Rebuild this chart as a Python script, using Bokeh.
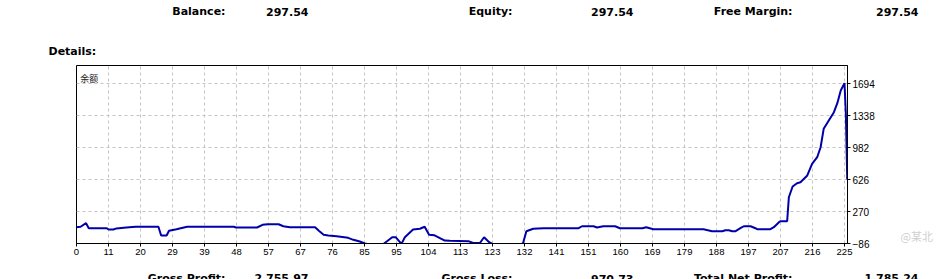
from bokeh.plotting import figure
from bokeh.models import Range1d, FixedTicker
from bokeh.layouts import column, row
from bokeh.core.properties import value
from bokeh.embed import file_html
from bokeh.resources import INLINE

# ---------------- data ----------------
trade = [0, 1.2, 2.8, 3.6, 8.8, 9.4, 10.8, 11.7, 14.6, 17.3, 24.0, 24.8, 26.4, 27.1,
         29.3, 32.4, 46.1, 46.7, 52.9, 54.5, 56.0, 59.2, 60.6, 62.5, 69.9, 71.0,
         72.4, 73.8, 76.2, 79.6, 81.1, 83.0, 84.5, 85.5, 89.9, 90.3, 92.5, 93.5,
         95.2, 96.2, 98.6, 100.6, 102.0, 103.3, 104.9, 107.9, 109.4, 114.8, 116.2,
         118.2, 119.4, 120.9, 122.1, 130.1, 130.8, 131.8, 133.8, 136.8, 147.1,
         148.1, 151.5, 152.5, 154.3, 157.8, 159.2, 165.8, 166.9, 169.0, 183.7,
         186.2, 189.2, 190.1, 191.1, 192.1, 193.1, 194.5, 195.5, 197.5, 198.9,
         199.4, 203.3, 204.3, 205.8, 206.3, 208.2, 208.7, 209.8, 211.1, 212.1,
         214.1, 215.5, 217.0, 218.0, 218.9, 220.4, 221.9, 222.9, 223.9, 225.0,
         225.4, 225.8]
balance = [95, 100, 140, 84, 84, 70, 70, 82, 92, 100, 100, 3, 3, 55,
           72, 100, 100, 92, 92, 122, 128, 128, 106, 95, 95, 55,
           12, 3, -5, -23, -45, -64, -86, -95, -95, -80, -16, -16,
           -90, -16, 70, 78, 100, 11, 5, -53, -55, -60, -80,
           -80, -16, -72, -95, -95, -86, 51, 78, 84, 84,
           106, 106, 92, 106, 106, 84, 84, 95, 73, 73,
           51, 51, 62, 62, 51, 51, 84, 106, 106, 84,
           73, 73, 95, 151, 162, 162, 429, 548, 585, 596,
           671, 801, 874, 985, 1190, 1282, 1375, 1475, 1616, 1698,
           1357, 626]

x_tick_labels = ["0", "11", "20", "29", "39", "48", "57", "67", "76", "85", "95",
                 "104", "113", "123", "132", "141", "151", "160", "169", "179",
                 "188", "197", "207", "216", "225"]
y_ticks = [-86, 270, 626, 982, 1338, 1694]

top_labels = ["Balance:", "Equity:", "Free Margin:"]
top_values = ["297.54", "297.54", "297.54"]
bottom_labels = ["Gross Profit:", "Gross Loss:", "Total Net Profit:"]
bottom_values = ["2 755.97", "970.73", "1 785.24"]
details_title = "Details:"
series_name = "余额"
watermark = "@某北"

# ---------------- layout (canvas pixels) ----------------
W, H = 952, 279
L, R, T, B = 76, 847, 65, 243
HEAD_H = T - 1          # header strip 0..64
MAIN_W = 890
FOOT_TOP = 265
MAIN_H = FOOT_TOP - HEAD_H
GRID_PX = 32
X_STEP = 225 / 24
Y_STEP = 356
x_end = (R - L) / GRID_PX * X_STEP
y_start = -86
y_end = y_start + (B - T) / GRID_PX * Y_STEP

label_right = [225, 512, 792]
value_right = [308, 633, 918]

bold = dict(text_font=value("DejaVu Sans"), text_font_style="bold",
            text_font_size=value("11px"), text_color="black",
            text_baseline="alphabetic")


def strip(w, h, x0, y0):
    f = figure(width=w, height=h, output_backend="svg", toolbar_location=None,
               x_range=Range1d(x0, x0 + w), y_range=Range1d(y0 + h, y0),
               x_axis_type=None, y_axis_type=None, min_border=0)
    f.min_border_left = f.min_border_right = f.min_border_top = f.min_border_bottom = 0
    f.outline_line_color = None
    f.background_fill_color = "white"
    f.border_fill_color = "white"
    f.xgrid.visible = False
    f.ygrid.visible = False
    return f


# header
head = strip(W, HEAD_H, 0, 0)
head.text(x=label_right, y=[11] * 3, text=top_labels, text_align="right", **bold)
head.text(x=value_right, y=[11] * 3, text=top_values, text_align="right", **bold)
head.text(x=[48], y=[51], text=[details_title], text_align="left", **bold)

# main chart
p = figure(width=MAIN_W, height=MAIN_H, output_backend="svg", toolbar_location=None,
           x_range=Range1d(0, x_end), y_range=Range1d(y_start, y_end),
           y_axis_location="right", min_border_left=L, min_border_right=MAIN_W - R,
           min_border_top=T - HEAD_H, min_border_bottom=FOOT_TOP - B)
p.background_fill_color = "white"
p.border_fill_color = "white"
p.outline_line_color = "black"
p.outline_line_width = 1

xt = [i * X_STEP for i in range(len(x_tick_labels))]
p.xaxis.ticker = FixedTicker(ticks=xt)
p.xgrid.ticker = FixedTicker(ticks=xt)
p.xaxis.major_label_overrides = {t: s for t, s in zip(xt, x_tick_labels)}
p.yaxis.ticker = FixedTicker(ticks=y_ticks)
p.ygrid.ticker = FixedTicker(ticks=y_ticks)

for ax in (p.xaxis[0], p.yaxis[0]):
    ax.axis_line_color = "black"
    ax.major_tick_line_color = "black"
    ax.major_tick_in = 0
    ax.major_tick_out = 3
    ax.minor_tick_line_color = None
    ax.major_label_text_font = "Liberation Sans"
    ax.major_label_text_color = "black"
p.xaxis.major_label_text_font_size = "9.5px"
p.xaxis.major_label_standoff = 2
p.yaxis.major_label_text_font_size = "10px"
p.yaxis.major_label_standoff = 2

for g in (p.xgrid[0], p.ygrid[0]):
    g.grid_line_color = "#c4c4c4"
    g.grid_line_dash = "3 3"
    g.grid_line_width = 1

p.line(trade, balance, line_color="#0000aa", line_width=2)

# series name inside the frame (top-left corner)
p.text(x=[x_end * 0.005], y=[y_end - (y_end - y_start) * 0.072], text=[series_name],
       text_font=value("Noto Sans CJK SC"), text_font_size=value("9px"),
       text_color="#222222", text_baseline="alphabetic")

# right strip with watermark
side = strip(W - MAIN_W, MAIN_H, MAIN_W, HEAD_H)
side.text(x=[900], y=[257], text=[watermark], text_font=value("Noto Sans CJK SC"),
          text_font_size=value("11px"), text_color="#cfcfcf", text_baseline="alphabetic")

# footer
foot = strip(W, H - FOOT_TOP, 0, FOOT_TOP)
foot.text(x=label_right, y=[278] * 3, text=bottom_labels, text_align="right", **bold)
foot.text(x=value_right, y=[278] * 3, text=bottom_values, text_align="right", **bold)

layout = column(head, row(p, side, spacing=0), foot, spacing=0)
open("out.html", "w").write(file_html(layout, INLINE))
